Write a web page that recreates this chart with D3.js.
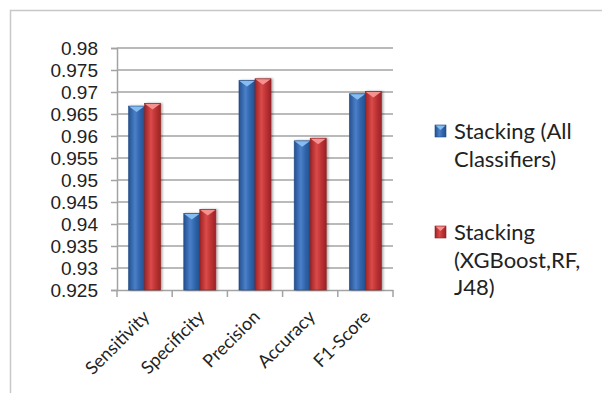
<!DOCTYPE html>
<html>
<head>
<meta charset="utf-8">
<script src="https://cdn.jsdelivr.net/npm/d3@7/dist/d3.min.js"></script>
<style>
  body { margin: 0; background: #fff; }
  svg { display: block; font-family: Lato, "Open Sans", sans-serif; }
</style>
</head>
<body>
<div id="chart"></div>
<script>
// Chart data
const categories = ["Sensitivity", "Specificity", "Precision", "Accuracy", "F1-Score"];
const seriesNames = ["Stacking (All Classifiers)", "Stacking (XGBoost,RF, J48)"];
const legendLines = [["Stacking (All", "Classifiers)"], ["Stacking", "(XGBoost,RF,", "J48)"]];
const allClassifiers = [0.9668, 0.9424, 0.9726, 0.9589, 0.9696];
const xgbRfJ48 = [0.9674, 0.9433, 0.9730, 0.9595, 0.9701];
const yTicks = [0.925, 0.93, 0.935, 0.94, 0.945, 0.95, 0.955, 0.96, 0.965, 0.97, 0.975, 0.98];

const width = 602, height = 393;
const margin = { left: 117, right: 209, top: 48, bottom: 103 };

const svg = d3.select("#chart").append("svg")
    .attr("width", width)
    .attr("height", height);

// Outer chart border (runs off the picture on right and bottom)
svg.append("rect")
    .attr("x", 10.5).attr("y", 10.5)
    .attr("width", 620).attr("height", 420)
    .attr("fill", "none")
    .attr("stroke", "#c8c8c8")
    .attr("stroke-width", 1.5);

const defs = svg.append("defs");
const palettes = [
    { dark: "#24508f", mid: "#4a80c9", light: "#2f64aa", cap: "#86bdf0", edge: "#1f4a85" },
    { dark: "#9c2326", mid: "#db4a48", light: "#bb3234", cap: "#f5918f", edge: "#8c1f22" }
];
palettes.forEach((p, i) => {
    const g = defs.append("linearGradient")
        .attr("id", "grad" + i)
        .attr("x1", "0").attr("x2", "1").attr("y1", "0").attr("y2", "0");
    g.append("stop").attr("offset", "0%").attr("stop-color", p.dark);
    g.append("stop").attr("offset", "40%").attr("stop-color", p.mid);
    g.append("stop").attr("offset", "70%").attr("stop-color", p.light);
    g.append("stop").attr("offset", "100%").attr("stop-color", p.dark);
});
const shadow = defs.append("filter").attr("id", "shadow")
    .attr("x", "-20%").attr("y", "-10%").attr("width", "150%").attr("height", "130%");
shadow.append("feDropShadow")
    .attr("dx", 1.5).attr("dy", 0).attr("stdDeviation", 1)
    .attr("flood-color", "#000").attr("flood-opacity", 0.35);

const x = d3.scaleBand()
    .domain(categories)
    .range([margin.left, width - margin.right])
    .paddingInner(0.42)
    .paddingOuter(0.21);

const xInner = d3.scaleBand()
    .domain(d3.range(seriesNames.length))
    .range([0, x.bandwidth()]);

const y = d3.scaleLinear()
    .domain([0.925, 0.98])
    .range([height - margin.bottom, margin.top]);

// Gridlines
svg.append("g")
    .selectAll("line")
    .data(yTicks.slice(1))
    .enter().append("line")
    .attr("x1", margin.left).attr("x2", width - margin.right)
    .attr("y1", d => y(d)).attr("y2", d => y(d))
    .attr("stroke", "#a3a3a3")
    .attr("stroke-width", 1.5);

// Y axis
const yAxis = svg.append("g")
    .attr("transform", `translate(${margin.left},0)`)
    .call(d3.axisLeft(y).tickValues(yTicks).tickSize(6).tickPadding(13)
        .tickFormat(d => String(+d.toFixed(3))));
yAxis.select(".domain").attr("stroke", "#a3a3a3").attr("stroke-width", 1.5);
yAxis.selectAll(".tick line").attr("stroke", "#a3a3a3").attr("stroke-width", 1.5);
yAxis.selectAll("text")
    .attr("fill", "#222")
    .style("font-size", "19px");

// X axis
const xAxis = svg.append("g")
    .attr("transform", `translate(0,${height - margin.bottom})`)
    .call(d3.axisBottom(x).tickSize(0).tickFormat(""));
xAxis.select(".domain").attr("stroke", "#a3a3a3").attr("stroke-width", 1.5);
const step = x.step();
const xTickPos = d3.range(categories.length + 1).map(i => margin.left + i * step);
xAxis.selectAll(".xtick")
    .data(xTickPos)
    .enter().append("line")
    .attr("x1", d => d).attr("x2", d => d)
    .attr("y1", 0).attr("y2", 7)
    .attr("stroke", "#a3a3a3")
    .attr("stroke-width", 1.5);

svg.append("g")
    .selectAll("text")
    .data(categories)
    .enter().append("text")
    .attr("transform", d => `translate(${x(d) + x.bandwidth() / 2 + 6},${height - margin.bottom + 28}) rotate(-45)`)
    .attr("text-anchor", "end")
    .attr("fill", "#222")
    .style("font-size", "18px")
    .text(d => d);

// Bars
const series = [allClassifiers, xgbRfJ48];
series.forEach((vals, si) => {
    const p = palettes[si];
    const g = svg.append("g");
    const bar = g.selectAll("g")
        .data(categories.map((c, i) => ({ cat: c, value: vals[i] })))
        .enter().append("g");
    bar.append("rect")
        .attr("x", d => x(d.cat) + xInner(si))
        .attr("y", d => y(d.value))
        .attr("width", xInner.bandwidth())
        .attr("height", d => y(0.925) - y(d.value))
        .attr("fill", `url(#grad${si})`)
        .attr("stroke", p.edge)
        .attr("stroke-width", 0.6)
        .attr("filter", "url(#shadow)");
    bar.append("path")
        .attr("d", d => {
            const x0 = x(d.cat) + xInner(si), w = xInner.bandwidth(), y0 = y(d.value);
            return `M${x0 + 0.5},${y0 + 0.5} L${x0 + w - 0.5},${y0 + 0.5} L${x0 + w / 2},${y0 + 6} Z`;
        })
        .attr("fill", p.cap);
});

// Legend
const legendY = [139, 240];
legendLines.forEach((lines, i) => {
    const g = svg.append("g");
    g.append("rect")
        .attr("x", 435).attr("y", legendY[i] - 14)
        .attr("width", 11).attr("height", 12)
        .attr("fill", `url(#grad${i})`)
        .attr("stroke", palettes[i].edge)
        .attr("stroke-width", 0.6);
    g.append("path")
        .attr("d", `M435.5,${legendY[i] - 13.5} L445.5,${legendY[i] - 13.5} L440.5,${legendY[i] - 9} Z`)
        .attr("fill", palettes[i].cap);
    g.selectAll("text")
        .data(lines)
        .enter().append("text")
        .attr("x", 454)
        .attr("y", (d, j) => legendY[i] + j * 27.5)
        .attr("fill", "#222")
        .style("font-size", "22px")
        .text(d => d);
});
</script>
</body>
</html>
